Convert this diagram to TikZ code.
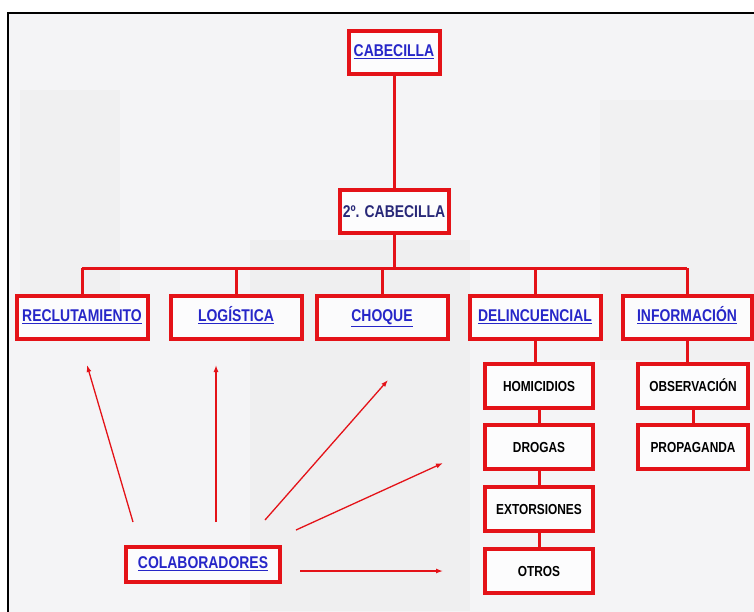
\documentclass[tikz,border=0pt]{standalone}
\usepackage{fontspec}
\setmainfont[FakeStretch=0.82]{Liberation Sans}
\usetikzlibrary{arrows.meta}
\definecolor{boxred}{RGB}{228,18,24}
\definecolor{linkblue}{RGB}{38,38,200}
\definecolor{darkblue}{RGB}{40,40,120}
\definecolor{bgcol}{RGB}{244,244,246}
\definecolor{bgshade}{RGB}{236,235,235}
\begin{document}
\begin{tikzpicture}[x=1pt,y=-1pt,
  box/.style={draw=boxred, line width=4pt, fill=white, fill opacity=0.8, text opacity=1,
    inner sep=0pt, minimum height=43pt, text height=12.5pt, text depth=3pt},
  toplabel/.style={box, text=linkblue, font=\bfseries\fontsize{17}{19}\selectfont},
  sublabel/.style={box, text=black, font=\bfseries\fontsize{14.5}{16}\selectfont,
    minimum width=108pt, minimum height=44pt, text height=11pt, text depth=0pt},
  link/.style={draw=boxred, line width=3pt},
  colarrow/.style={draw=boxred, line width=1.3pt, -{Latex[length=7pt,width=5pt]}}]
\useasboundingbox (0,0) rectangle (754,611);
\clip (0,0) rectangle (754,611);
\fill[white] (0,0) rectangle (754,611);
\fill[bgcol] (8,13) rectangle (760,620);
\fill[bgshade, opacity=0.5] (250,240) rectangle (470,611);
\fill[bgshade, opacity=0.4] (20,90) rectangle (120,300);
\fill[bgshade, opacity=0.3] (600,100) rectangle (754,360);
\draw[line width=1.8pt] (8,620) -- (8,13) -- (760,13);

% nodes
\node[toplabel, minimum width=91pt] (cab) at (394,52) {\underline{CABECILLA}};
\node[box, text=darkblue, font=\bfseries\fontsize{17}{19}\selectfont, minimum width=109pt, text depth=0pt] (cab2) at (394,211) {2º. CABECILLA};

\node[toplabel, minimum width=131pt] (recl) at (82,317) {\underline{RECLUTAMIENTO}};
\node[toplabel, minimum width=131pt] (log) at (236,317) {\underline{LOGÍSTICA}};
\node[toplabel, minimum width=131pt] (cho) at (382,317) {\underline{CHOQUE}};
\node[toplabel, minimum width=131pt] (del) at (535,317) {\underline{DELINCUENCIAL}};
\node[toplabel, minimum width=129pt] (inf) at (687,317) {\underline{INFORMACIÓN}};

\node[sublabel] (hom) at (539,386) {HOMICIDIOS};
\node[sublabel] (dro) at (539,447) {DROGAS};
\node[sublabel] (ext) at (539,509) {EXTORSIONES};
\node[sublabel] (otr) at (539,571) {OTROS};

\node[sublabel, minimum width=110pt] (obs) at (693,386) {OBSERVACIÓN};
\node[sublabel, minimum width=110pt] (pro) at (693,447) {PROPAGANDA};

\node[toplabel, minimum width=154pt, minimum height=35pt] (col) at (203,564) {\underline{COLABORADORES}};

% tree connectors
\coordinate (bar) at (394,268);
\draw[link] (cab.south) -- (cab2.north);
\draw[link] (cab2.south) -- (bar);
\draw[link] (recl.north |- bar) -- (inf.north |- bar);
\foreach \n in {recl,log,cho,del,inf} \draw[link] (\n.north |- bar) -- (\n.north);
\draw[link] (del.south) -- (del.south |- hom.north);
\draw[link] (hom.south) -- (dro.north);
\draw[link] (dro.south) -- (ext.north);
\draw[link] (ext.south) -- (otr.north);
\draw[link] (inf.south) -- (inf.south |- obs.north);
\draw[link] (obs.south) -- (pro.north);

% arrows from COLABORADORES
\coordinate (s1) at (133,522); \coordinate (t1) at (87,365);
\coordinate (s2) at (216,522); \coordinate (t2) at (216,365);
\coordinate (s3) at (265,520); \coordinate (t3) at (388,380);
\coordinate (s4) at (296,530); \coordinate (t4) at (443,463);
\coordinate (s5) at (300,571); \coordinate (t5) at (443,571);
\foreach \i in {1,...,5} \draw[colarrow] (s\i) -- (t\i);
\end{tikzpicture}
\end{document}
